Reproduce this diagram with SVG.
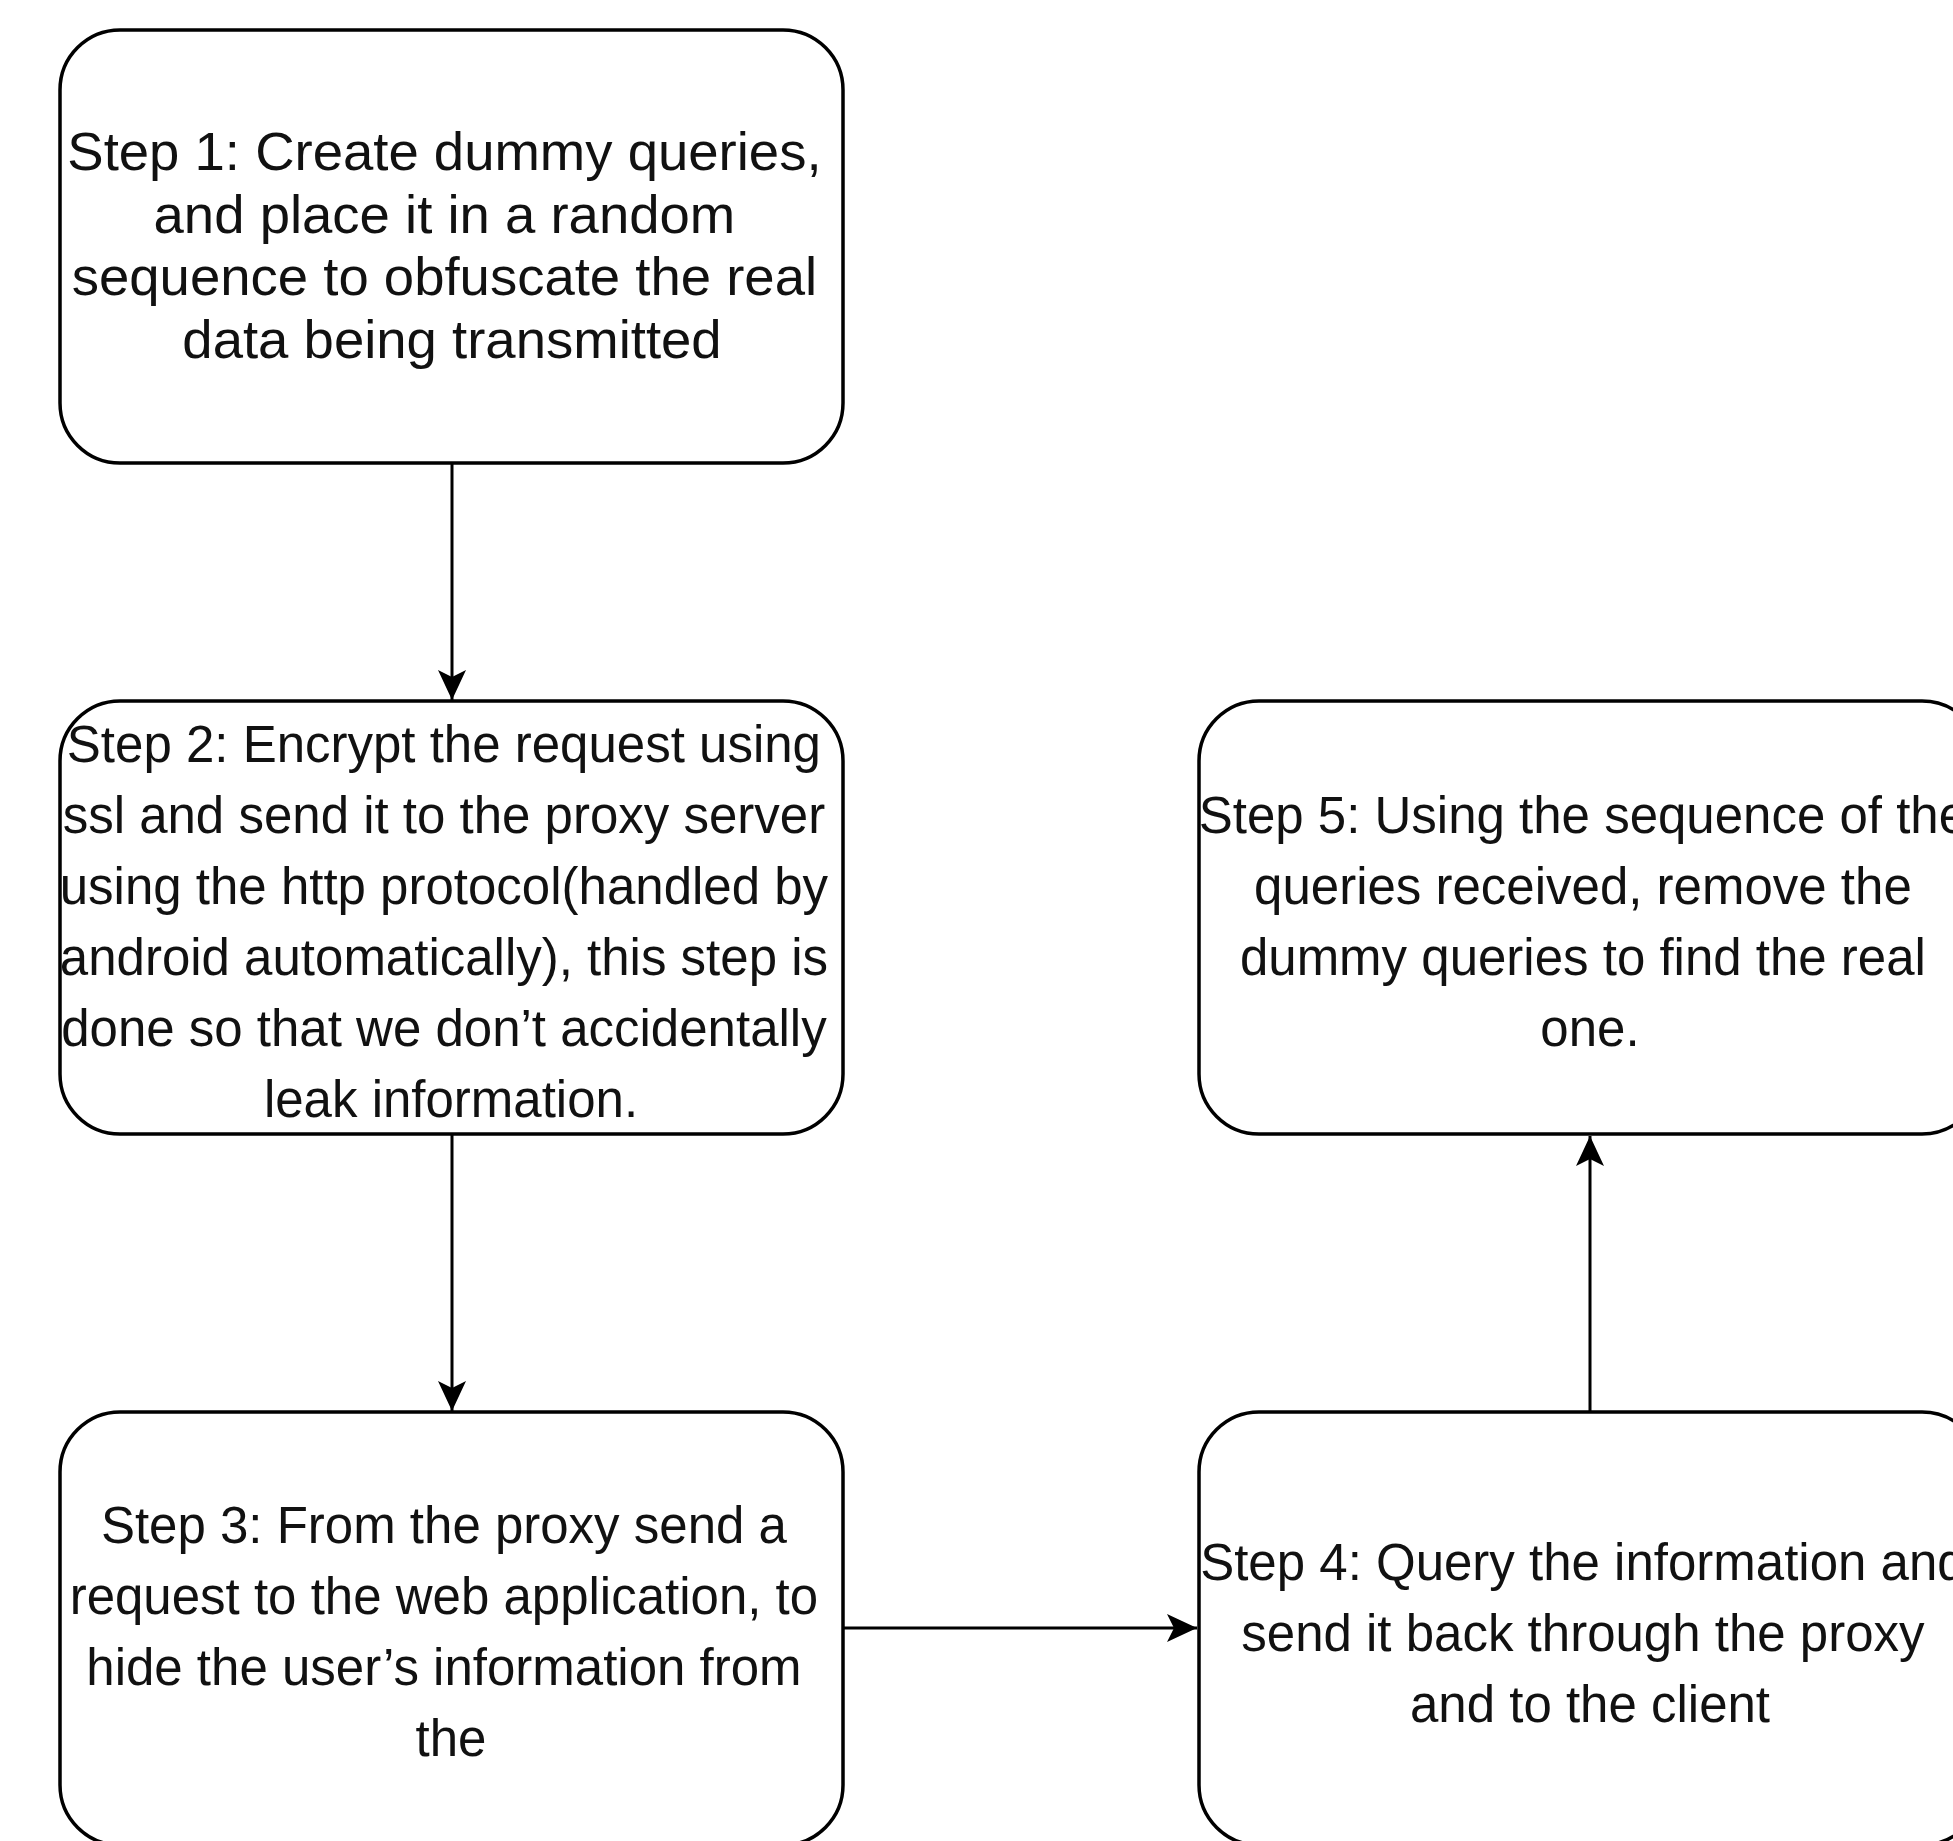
<svg xmlns="http://www.w3.org/2000/svg" width="1953" height="1841" viewBox="0 0 1953 1841">
  <defs>
    <style>
      .box { fill: #ffffff; stroke: #000000; stroke-width: 3.5; }
      .conn { fill: none; stroke: #000000; stroke-width: 3; }
      .lbl { font-family: "Liberation Sans", Arial, sans-serif; font-size: 51px; fill: #111111; text-anchor: middle; }
      .lbl1 { font-size: 54.5px; }
    </style>
    <marker id="arrow" viewBox="0 0 30 30" refX="30" refY="15" markerWidth="30" markerHeight="30" markerUnits="userSpaceOnUse" orient="auto">
      <path d="M30,15 L0,1 L7,15 L0,29 Z" fill="#000000"/>
    </marker>
  </defs>
  <rect x="0" y="0" width="1953" height="1841" fill="#ffffff"/>

  <g id="connectors">
    <line class="conn" x1="452" y1="463" x2="452" y2="700" marker-end="url(#arrow)"/>
    <line class="conn" x1="452" y1="1134" x2="452" y2="1411" marker-end="url(#arrow)"/>
    <line class="conn" x1="843" y1="1628" x2="1197" y2="1628" marker-end="url(#arrow)"/>
    <line class="conn" x1="1590" y1="1412" x2="1590" y2="1136" marker-end="url(#arrow)"/>
  </g>

  <g id="step1">
    <rect class="box" x="60" y="30" width="783" height="433" rx="60" ry="60"/>
    <text class="lbl lbl1" x="452">
      <tspan x="452" y="170">Step 1: Create dummy queries,</tspan>
      <tspan x="452" y="232.5">and place it in a random</tspan>
      <tspan x="452" y="295">sequence to obfuscate the real</tspan>
      <tspan x="452" y="357.5">data being transmitted</tspan>
    </text>
  </g>

  <g id="step2">
    <rect class="box" x="60" y="701" width="783" height="433" rx="60" ry="60"/>
    <text class="lbl" x="452">
      <tspan x="451" y="762">Step 2: Encrypt the request using</tspan>
      <tspan x="451" y="833">ssl and send it to the proxy server</tspan>
      <tspan x="451" y="904">using the http protocol(handled by</tspan>
      <tspan x="451" y="975">android automatically), this step is</tspan>
      <tspan x="451" y="1046">done so that we don’t accidentally</tspan>
      <tspan x="451" y="1117">leak information.</tspan>
    </text>
  </g>

  <g id="step3">
    <rect class="box" x="60" y="1412" width="783" height="433" rx="60" ry="60"/>
    <text class="lbl" x="452">
      <tspan x="451" y="1543">Step 3: From the proxy send a</tspan>
      <tspan x="451" y="1614">request to the web application, to</tspan>
      <tspan x="451" y="1685">hide the user’s information from</tspan>
      <tspan x="451" y="1756">the</tspan>
    </text>
  </g>

  <g id="step4">
    <rect class="box" x="1199" y="1412" width="783" height="433" rx="60" ry="60"/>
    <text class="lbl" x="1590">
      <tspan x="1590" y="1580">Step 4: Query the information and</tspan>
      <tspan x="1590" y="1651">send it back through the proxy</tspan>
      <tspan x="1590" y="1722">and to the client</tspan>
    </text>
  </g>

  <g id="step5">
    <rect class="box" x="1199" y="701" width="783" height="433" rx="60" ry="60"/>
    <text class="lbl" x="1590">
      <tspan x="1590" y="833">Step 5: Using the sequence of the</tspan>
      <tspan x="1590" y="904">queries received, remove the</tspan>
      <tspan x="1590" y="975">dummy queries to find the real</tspan>
      <tspan x="1590" y="1046">one.</tspan>
    </text>
  </g>
</svg>
